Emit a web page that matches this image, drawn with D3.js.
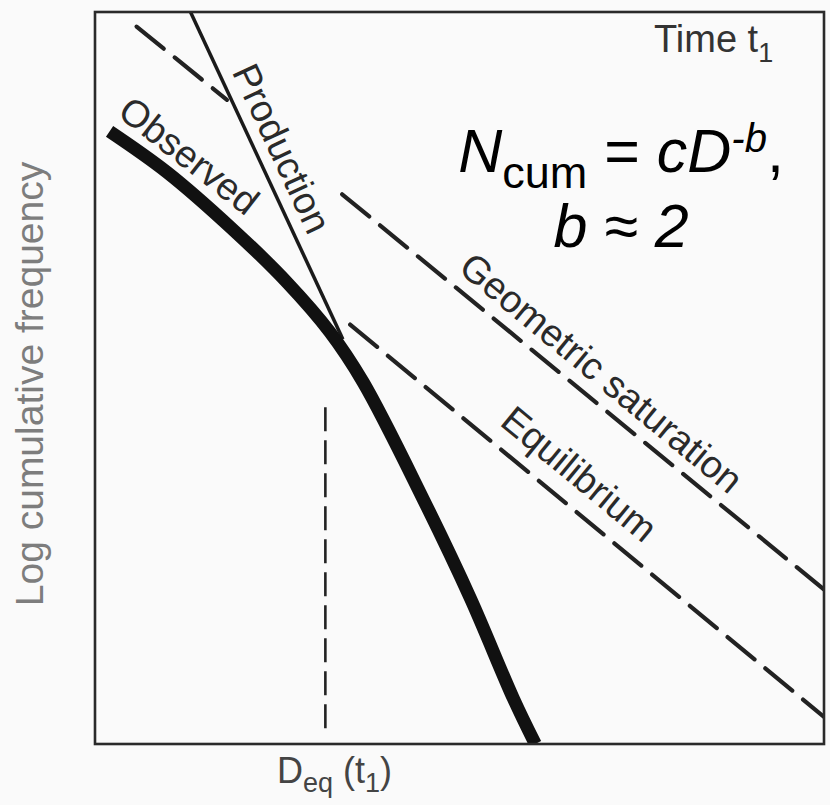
<!DOCTYPE html>
<html><head><meta charset="utf-8">
<script src="https://cdn.jsdelivr.net/npm/d3@7"></script>
<style>
body{margin:0;background:#fafafa}
text{font-family:"Liberation Sans",Arial,Helvetica,sans-serif}
</style>
</head><body>
<svg id="c" width="830" height="805"></svg>
<script>
// Abstract log-log units (0..10 on both axes)
const observed = [[0.20,8.37],[0.99,7.81],[1.89,7.03],[2.63,6.31],[3.22,5.63],[3.68,4.94],[4.50,3.35],[5.15,1.99],[5.74,0.62],[6.04,0.0]];
const production = [[1.31,10.0],[3.40,5.53]];
const geomSatA = [[0.57,9.80],[1.81,8.80]];
const geomSatB = [[3.39,7.51],[10.0,2.11]];
const equilibrium = [[3.50,5.73],[10.0,0.37]];
const deqLine = [[3.16,4.60],[3.16,0.12]];
const lineLabels = ["Observed","Production","Geometric saturation","Equilibrium"];
const yLabel = "Log cumulative frequency";

const svg = d3.select("#c");
const x = d3.scaleLinear([0,10],[95,824]);
const y = d3.scaleLinear([0,10],[744,12]);
const line = d3.line().x(d=>x(d[0])).y(d=>y(d[1]));
const curve = d3.line().x(d=>x(d[0])).y(d=>y(d[1])).curve(d3.curveCatmullRom.alpha(0.5));

svg.append("rect").attr("width",830).attr("height",805).attr("fill","#fafafa");

svg.append("clipPath").attr("id","pl").append("rect")
  .attr("x",x(0)).attr("y",y(10)).attr("width",x(10)-x(0)).attr("height",y(0)-y(10));
const g = svg.append("g").attr("clip-path","url(#pl)");

// dashed lines
[geomSatA, geomSatB, equilibrium].forEach(d=>{
  g.append("path").attr("d",line(d)).attr("fill","none").attr("stroke","#222")
   .attr("stroke-width",4.2).attr("stroke-linecap","round").attr("stroke-dasharray","35 14");
});
g.append("path").attr("d",line(deqLine)).attr("fill","none").attr("stroke","#222")
 .attr("stroke-width",2.6).attr("stroke-dasharray","24 9");
// production
g.append("path").attr("d",line(production)).attr("fill","none").attr("stroke","#1a1a1a")
 .attr("stroke-width",3.5);
// observed
g.append("path").attr("d",curve(observed)).attr("fill","none").attr("stroke","#111")
 .attr("stroke-width",13);

// frame
svg.append("rect").attr("x",x(0)).attr("y",y(10)).attr("width",x(10)-x(0)).attr("height",y(0)-y(10))
 .attr("fill","none").attr("stroke","#2a2a2a").attr("stroke-width",2.6);

// line labels
const lp = [[181,166,38],[270,154,65],[593,383,39.5],[571,484,39.5]];
lineLabels.forEach((t,i)=>{
  svg.append("text").attr("transform",`translate(${lp[i][0]},${lp[i][1]}) rotate(${lp[i][2]})`)
   .attr("text-anchor","middle").attr("font-size",38).attr("fill","#2a2a2a").text(t);
});

// Time t1
const tt = svg.append("text").attr("x",654).attr("y",52).attr("font-size",38).attr("fill","#333");
tt.append("tspan").text("Time t");
tt.append("tspan").attr("font-size",27).attr("dy",10).text("1");

// formula
const f1 = svg.append("text").attr("x",621).attr("y",172).attr("text-anchor","middle").attr("font-size",61).attr("fill","#000");
f1.append("tspan").attr("font-style","italic").text("N");
f1.append("tspan").attr("font-size",45).attr("dy",16).text("cum");
f1.append("tspan").attr("dy",-16).text(" = ");
f1.append("tspan").attr("font-style","italic").text("cD");
f1.append("tspan").attr("font-style","italic").attr("font-size",40).attr("dy",-20).text("-b");
f1.append("tspan").attr("dy",20).text(",");
svg.append("text").attr("x",621).attr("y",247).attr("text-anchor","middle").attr("font-size",61)
 .attr("font-style","italic").attr("fill","#000").text("b ≈ 2");

// y label
svg.append("text").attr("transform","translate(43,384) rotate(-90)").attr("text-anchor","middle")
 .attr("font-size",39).attr("fill","#7d7d7d").text(yLabel);

// x label
const xl = svg.append("text").attr("x",277).attr("y",783).attr("font-size",36).attr("fill","#444");
xl.append("tspan").text("D");
xl.append("tspan").attr("font-size",27).attr("dy",9).text("eq");
xl.append("tspan").attr("dy",-9).text(" (t");
xl.append("tspan").attr("font-size",27).attr("dy",9).text("1");
xl.append("tspan").attr("dy",-9).text(")");
</script>
</body></html>
